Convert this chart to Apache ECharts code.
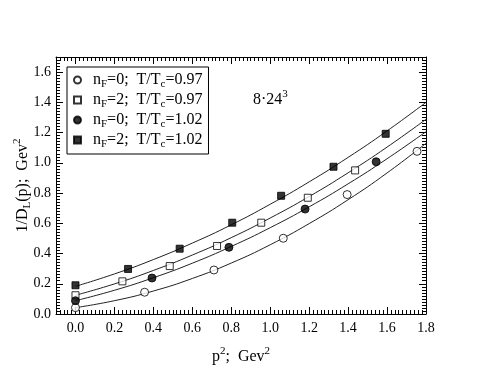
<!DOCTYPE html>
<html>
<head>
<meta charset="utf-8">
<script src="https://cdn.jsdelivr.net/npm/echarts@6/dist/echarts.min.js"></script>
<style>
  html, body { margin: 0; padding: 0; background: #fff; }
  #chart { width: 480px; height: 371px; }
</style>
</head>
<body>
<div id="chart"></div>
<script>
// tick labels
var xTicks = [0, 0.2, 0.4, 0.6, 0.8, 1.0, 1.2, 1.4, 1.6, 1.8];
var yTicks = [0, 0.2, 0.4, 0.6, 0.8, 1.0, 1.2, 1.4, 1.6];

// legend entries
var nF = [0, 2, 0, 2];
var tRatio = ["0.97", "0.97", "1.02", "1.02"];

// measured points (p^2, 1/D_L)
var p2A = [0.0, 0.355, 0.711, 1.067, 1.395, 1.754];
var valA = [0.042, 0.144, 0.291, 0.501, 0.790, 1.076];
var p2B = [0.0, 0.241, 0.484, 0.727, 0.954, 1.193, 1.436];
var valB = [0.124, 0.216, 0.317, 0.450, 0.604, 0.769, 0.950];
var p2C = [0.0, 0.393, 0.788, 1.179, 1.544];
var valC = [0.088, 0.238, 0.441, 0.694, 1.007];
var p2D = [0.0, 0.27, 0.535, 0.805, 1.056, 1.325, 1.593];
var valD = [0.190, 0.298, 0.432, 0.604, 0.782, 0.974, 1.192];

// fit curves, read at p^2 = 0, 0.2, ... 1.8
var curveX = [0, 0.2, 0.4, 0.6, 0.8, 1.0, 1.2, 1.4, 1.6, 1.8];
var fitA = [0.042, 0.088, 0.152, 0.235, 0.337, 0.458, 0.598, 0.756, 0.933, 1.129];
var fitB = [0.124, 0.199, 0.288, 0.390, 0.505, 0.635, 0.777, 0.934, 1.104, 1.288];
var fitC = [0.088, 0.157, 0.240, 0.336, 0.447, 0.571, 0.709, 0.861, 1.027, 1.206];
var fitD = [0.183, 0.265, 0.360, 0.469, 0.590, 0.726, 0.874, 1.036, 1.211, 1.400];

var FONT = "Liberation Serif";

function pairs(xs, ys) {
  var out = [];
  for (var i = 0; i < xs.length; i++) out.push([xs[i], ys[i]]);
  return out;
}

var names = [];
for (var i = 0; i < nF.length; i++) names.push("nF=" + nF[i] + "; T/Tc=" + tRatio[i]);

var richText = {
  g: { width: 7 },
  m: { fontFamily: FONT, fontSize: 16, color: "#000", lineHeight: 20 },
  s: { fontFamily: FONT, fontSize: 11, color: "#000", lineHeight: 11, padding: [9, 0, 0, 0] },
  u: { fontFamily: FONT, fontSize: 11, color: "#000", lineHeight: 11, padding: [0, 0, 11, 0] }
};

var pts = [[p2A, valA], [p2B, valB], [p2C, valC], [p2D, valD]];
var fits = [fitA, fitB, fitC, fitD];
var symbols = ["circle", "rect", "circle", "rect"];
var filled = [false, false, true, true];

var series = [];
for (var k = 0; k < 4; k++) {
  series.push({
    type: "line",
    data: pairs(curveX, fits[k]),
    smooth: true,
    showSymbol: false,
    silent: true,
    lineStyle: { color: "#222", width: 1 },
    z: 2
  });
}
for (var k = 0; k < 4; k++) {
  series.push({
    name: names[k],
    type: "scatter",
    data: pairs(pts[k][0], pts[k][1]),
    symbol: symbols[k],
    symbolSize: symbols[k] === "rect" ? 7 : 8,
    itemStyle: {
      color: filled[k] ? "#000" : "#fff",
      borderColor: "#000",
      borderWidth: 1
    },
    z: 3
  });
}

function majorX(pos, labels) {
  return {
    type: "value", min: -0.1, max: 1.8, position: pos,
    axisLine: { show: true, onZero: false, lineStyle: { color: "#000", width: 1 } },
    axisTick: { show: true, inside: true, length: 7, customValues: xTicks, lineStyle: { color: "#000" } },
    axisLabel: {
      show: labels, customValues: xTicks, margin: 7,
      fontFamily: FONT, fontSize: 14, color: "#000",
      formatter: function (v) { return v.toFixed(1); }
    },
    splitLine: { show: false }
  };
}
function minorX(pos) {
  return {
    type: "value", min: -0.1, max: 1.8, interval: 0.02, position: pos,
    axisLine: { show: false, onZero: false },
    axisTick: { show: true, inside: true, length: 4, lineStyle: { color: "#000" } },
    axisLabel: { show: false },
    splitLine: { show: false }
  };
}
function majorY(pos, labels) {
  return {
    type: "value", min: 0, max: 1.7, position: pos,
    axisLine: { show: true, onZero: false, lineStyle: { color: "#000", width: 1 } },
    axisTick: { show: true, inside: true, length: 7, customValues: yTicks, lineStyle: { color: "#000" } },
    axisLabel: {
      show: labels, customValues: yTicks, margin: 5,
      fontFamily: FONT, fontSize: 14, color: "#000",
      formatter: function (v) { return v.toFixed(1); }
    },
    splitLine: { show: false }
  };
}
function minorY(pos) {
  return {
    type: "value", min: 0, max: 1.7, interval: 0.02, position: pos,
    axisLine: { show: false, onZero: false },
    axisTick: { show: true, inside: true, length: 4, lineStyle: { color: "#000" } },
    axisLabel: { show: false },
    splitLine: { show: false }
  };
}

var xBottom = majorX("bottom", true);
xBottom.name = "{m|p}{u|2}{m|;  Gev}{u|2}";
xBottom.nameLocation = "middle";
xBottom.nameGap = 33;
xBottom.nameMoveOverlap = false;
xBottom.nameTextStyle = { rich: richText };

var yLeft = majorY("left", true);
yLeft.name = "{m|1/D}{s|L}{m|(p);  Gev}{u|2}";
yLeft.nameLocation = "middle";
yLeft.nameGap = 23;
yLeft.nameMoveOverlap = false;
yLeft.nameTextStyle = { rich: richText };

var chart = echarts.init(document.getElementById("chart"));
chart.setOption({
  backgroundColor: "#fff",
  animation: false,
  grid: { left: 56, right: 54, top: 57, bottom: 57, containLabel: false, outerBoundsMode: "none" },
  xAxis: [xBottom, minorX("bottom"), majorX("top", false), minorX("top")],
  yAxis: [yLeft, minorY("left"), majorY("right", false), minorY("right")],
  legend: {
    data: names,
    orient: "vertical",
    left: 67, top: 67,
    padding: [3, 6, 4, 6],
    itemGap: 0,
    itemWidth: 7, itemHeight: 7,
    borderColor: "#000", borderWidth: 1,
    backgroundColor: "#fff",
    textStyle: { rich: richText },
    formatter: function (name) {
      var i = names.indexOf(name);
      return "{g|}{m|n}{s|F}{m|=" + nF[i] + ";  T/T}{s|c}{m|=" + tRatio[i] + "}";
    }
  },
  graphic: [{
    type: "text",
    left: 253, top: 89,
    style: { text: "{m|8·24}{u|3}", rich: richText }
  }],
  series: series
});
</script>
</body>
</html>
